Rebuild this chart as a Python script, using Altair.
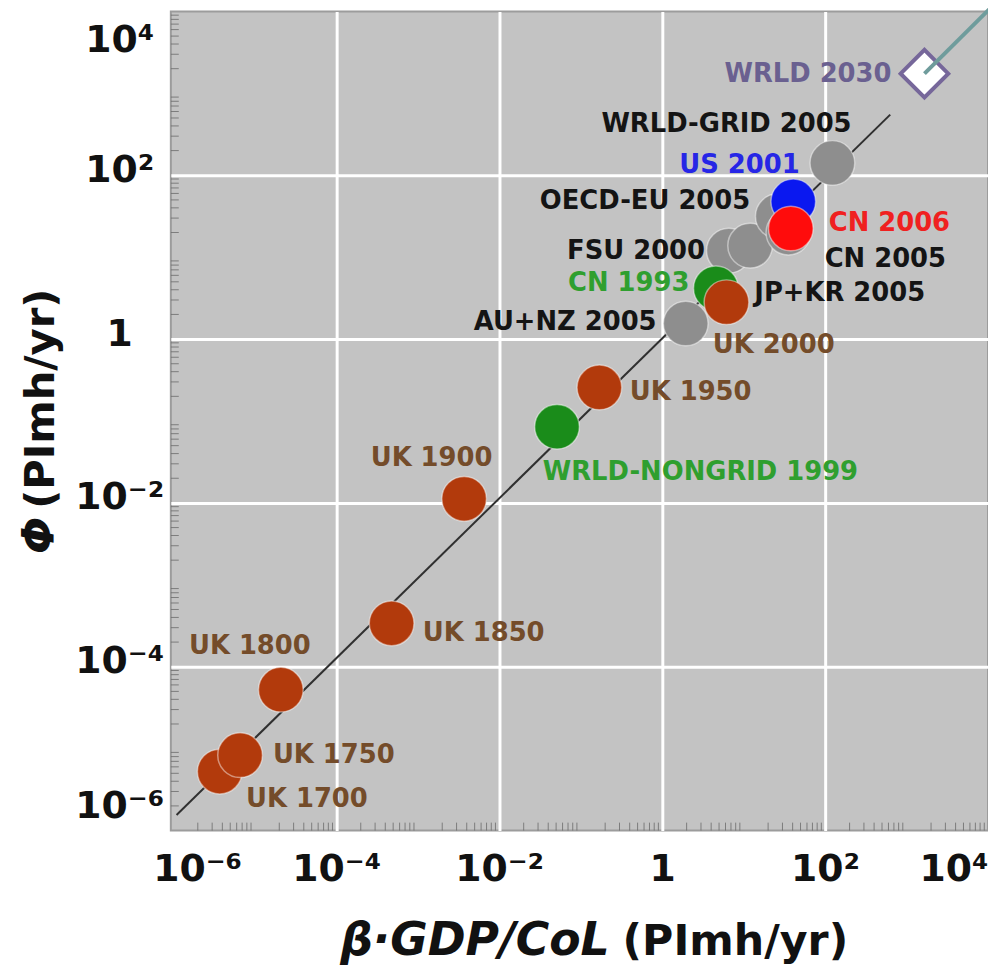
import altair as alt
import pandas as pd

# ---------------- data ----------------
names = ["UK 1700", "UK 1750", "UK 1800", "UK 1850", "UK 1900",
         "WRLD-NONGRID 1999", "UK 1950", "AU+NZ 2005", "CN 1993", "UK 2000",
         "FSU 2000", "JP+KR 2005", "OECD-EU 2005", "CN 2005", "US 2001",
         "CN 2006", "WRLD-GRID 2005", "WRLD 2030"]
groups = ["UK", "UK", "UK", "UK", "UK",
          "green", "UK", "gray", "green", "UK",
          "gray", "gray", "gray", "gray", "blue",
          "red", "gray", "future"]
# log10 of beta*GDP/CoL and of Phi (PImh/yr)
x_log = [-5.43, -5.18, -4.68, -3.32, -2.43,
         -1.29, -0.77, 0.29, 0.66, 0.79,
         0.82, 1.08, 1.42, 1.55, 1.61,
         1.58, 2.09, 3.22]
y_log = [-5.28, -5.08, -4.28, -3.47, -1.95,
         -1.07, -0.59, 0.19, 0.62, 0.45,
         1.08, 1.14, 1.50, 1.30, 1.68,
         1.35, 2.15, 3.24]
# label anchor (centre of each text), in the same log units
label_x_log = [-4.36, -4.03, -5.06, -2.19, -2.83,
               0.47, 0.35, -1.19, -0.41, 1.37,
               -0.32, 2.18, -0.21, 2.74, 0.95,
               2.79, 0.79, 1.79]
label_y_log = [-5.61, -5.08, -3.75, -3.59, -1.45,
               -1.62, -0.65, 0.21, 0.69, -0.07,
               1.08, 0.56, 1.68, 0.98, 2.13,
               1.42, 2.63, 3.24]

# trend line and 2030 projection line (log10 end points)
fit_x_log = [-5.96, 2.80]
fit_y_log = [-5.81, 2.74]
proj_x_log = [3.22, 4.05]
proj_y_log = [3.24, 4.06]

# axes
tick_exps = [-6, -4, -2, 0, 2, 4]
tick_labels = ["10\u207b\u2076", "10\u207b\u2074", "10\u207b\u00b2", "1", "10\u00b2", "10\u2074"]
minor_mults = [2, 3, 4, 5, 6, 7, 8, 9]
minor_decades = [-6, -5, -4, -3, -2, -1, 0, 1, 2, 3]

group_domain = ["UK", "green", "gray", "blue", "red", "future"]
fill_colors = ["#b23a0c", "#1a8c1a", "#8e8e8e", "#0a18f0", "#ff0c0c", "#ffffff"]
text_colors = ["#744c2a", "#2f9f2f", "#141414", "#2626e6", "#f02020", "#6a6090"]

FONT = "DejaVu Sans"

# ---------------- tables ----------------
pts = pd.DataFrame({
    "name": names, "group": groups,
    "x": [10 ** v for v in x_log], "y": [10 ** v for v in y_log],
    "lx": [10 ** v for v in label_x_log], "ly": [10 ** v for v in label_y_log],
})
draw_rank = {"gray": 0, "green": 1, "blue": 2, "UK": 3, "red": 4, "future": 5}
pts["rank"] = pts["group"].map(draw_rank)
pts = pts.sort_values("rank", kind="stable")
circles_df = pts[pts["group"] != "future"]
future_df = pts[pts["group"] == "future"]

fit_df = pd.DataFrame({"x": [10 ** v for v in fit_x_log], "y": [10 ** v for v in fit_y_log]})
proj_df = pd.DataFrame({"x": [10 ** v for v in proj_x_log], "y": [10 ** v for v in proj_y_log]})
minor_vals = [m * 10 ** d for d in minor_decades for m in minor_mults]
minor_df = pd.DataFrame({"v": minor_vals})

tick_values = [10.0 ** e for e in tick_exps]
label_expr = ""
for e, lab in zip(tick_exps, tick_labels):
    label_expr += f"round(log(datum.value)/LN10) == {e} ? '{lab}' : "
label_expr += "''"

grid_opacity = {"condition": {"test": "datum.value < 2e-6 || datum.value > 5e3", "value": 0}, "value": 1}

x_scale = alt.Scale(type="log", domain=[10 ** -6.03, 1e4], nice=False)
y_scale = alt.Scale(type="log", domain=[1e-6, 1e4], nice=False)

common_axis = dict(values=tick_values, labelExpr=label_expr, title=None, grid=True,
                   gridColor="white", gridWidth=3, gridOpacity=grid_opacity,
                   domain=False, tickSize=0, labelFont=FONT, labelFontWeight="bold",
                   labelFontSize=38, labelColor="#111111",
                   labelOverlap=False, labelBound=False)
x_axis = alt.Axis(labelPadding=20, labelBaseline="top", labelFlush=1,
                  labelOffset={"condition": {"test": "datum.value < 2e-6", "value": 24}, "value": 0},
                  **common_axis)
y_axis = alt.Axis(labelPadding=52, labelAlign="center", labelFlush=True,
                  labelOffset={"condition": {"test": "datum.value > 5e3", "value": 10}, "value": -5},
                  **common_axis)

X = alt.X("x:Q", scale=x_scale, axis=x_axis)
Y = alt.Y("y:Q", scale=y_scale, axis=y_axis)

W, H = 823, 825

# minor ticks (inside the frame, left and bottom)
minor_left = alt.Chart(minor_df).mark_rule(color="#6a6a6a", strokeWidth=1, opacity=0.8).encode(
    y=alt.Y("v:Q", scale=y_scale, axis=y_axis), x=alt.value(0), x2=alt.value(8))
minor_bottom = alt.Chart(minor_df).mark_rule(color="#6a6a6a", strokeWidth=1, opacity=0.8).encode(
    x=alt.X("v:Q", scale=x_scale, axis=x_axis), y=alt.value(H - 8), y2=alt.value(H))

fit_line = alt.Chart(fit_df).mark_line(color="#303030", strokeWidth=2).encode(x=X, y=Y)

circles = alt.Chart(circles_df).mark_point(
    filled=True, shape="circle", size=2025, opacity=1,
    stroke="#ffffff", strokeWidth=1.5, strokeOpacity=0.45
).encode(
    x=X, y=Y,
    fill=alt.Fill("group:N", scale=alt.Scale(domain=group_domain, range=fill_colors), legend=None),
)

diamond = alt.Chart(future_df).mark_point(
    filled=True, shape="diamond", size=2300, opacity=1, color="#ffffff",
    stroke="#76679a", strokeWidth=4
).encode(x=X, y=Y)

proj_line = alt.Chart(proj_df).mark_line(color="#6f9c9c", strokeWidth=4, clip=False).encode(x=X, y=Y)

labels = alt.Chart(pts).mark_text(
    font=FONT, fontWeight="bold", fontSize=26, align="center", baseline="middle"
).encode(
    x=alt.X("lx:Q", scale=x_scale, axis=x_axis),
    y=alt.Y("ly:Q", scale=y_scale, axis=y_axis),
    text="name:N",
    color=alt.Color("group:N", scale=alt.Scale(domain=group_domain, range=text_colors), legend=None),
)

# axis titles (mixed italic / upright parts)
xt_it = alt.Chart(pd.DataFrame({"t": ["\u03b2\u00b7GDP/CoL"]})).mark_text(
    font=FONT, fontWeight="bold", fontStyle="italic", fontSize=46, align="right",
    baseline="alphabetic", color="#111111"
).encode(text="t:N", x=alt.value(442), y=alt.value(950))
xt_up = alt.Chart(pd.DataFrame({"t": ["(PImh/yr)"]})).mark_text(
    font=FONT, fontWeight="bold", fontSize=43, align="left",
    baseline="alphabetic", color="#111111"
).encode(text="t:N", x=alt.value(455), y=alt.value(950))
yt_it = alt.Chart(pd.DataFrame({"t": ["\u03a6"]})).mark_text(
    font=FONT, fontWeight="bold", fontStyle="italic", fontSize=44, align="right",
    baseline="alphabetic", angle=270, color="#111111"
).encode(text="t:N", x=alt.value(-118), y=alt.value(509))
yt_up = alt.Chart(pd.DataFrame({"t": ["(PImh/yr)"]})).mark_text(
    font=FONT, fontWeight="bold", fontSize=42, align="left",
    baseline="alphabetic", angle=270, color="#111111"
).encode(text="t:N", x=alt.value(-118), y=alt.value(501))

chart = alt.layer(
    minor_left, minor_bottom, fit_line, circles, diamond, proj_line, labels,
    xt_it, xt_up, yt_it, yt_up
).properties(
    width=W, height=H,
    autosize=alt.AutoSizeParams(type="none"),
    padding={"left": 164, "top": 0, "right": 0, "bottom": 140},
    background="white",
).configure_view(
    fill="#c3c3c3", stroke="#9c9c9c", strokeWidth=2
)

chart.save("out.html", embed_options={"renderer": "svg", "actions": False})
